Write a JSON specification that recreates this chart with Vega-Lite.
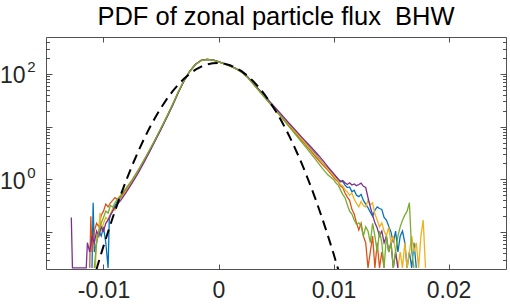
{
"$schema": "https://vega.github.io/schema/vega-lite/v6.json",
"width": 460, "height": 232,
"autosize": {"type": "none"},
"padding": {"left": 46, "top": 37, "right": 4, "bottom": 35},
"background": "white",
"config": {"view": {"stroke": null}, "font": "Liberation Sans"},
"title": {"text": "PDF of zonal particle flux \u00a0BHW", "fontSize": 25.5, "fontWeight": "normal", "font": "Liberation Sans", "color": "#000000", "anchor": "middle", "offset": 7, "baseline": "alphabetic", "dy": 21},
"datasets": {
"pdf": [
{"s":"s1","x":-0.011,"y":0.021},{"s":"s1","x":-0.0109,"y":0.36},{"s":"s1","x":-0.0108,"y":0.042},{"s":"s1","x":-0.0106,"y":0.063},{"s":"s1","x":-0.0104,"y":0.105},{"s":"s1","x":-0.0102,"y":0.084},{"s":"s1","x":-0.01,"y":0.126},{"s":"s1","x":-0.0098,"y":0.063},{"s":"s1","x":-0.0096,"y":0.021},{"s":"s1","x":-0.0095,"y":0.17},{"s":"s1","x":-0.0094,"y":0.21},{"s":"s1","x":-0.0092,"y":0.26},{"s":"s1","x":-0.009,"y":0.32},{"s":"s1","x":-0.0088,"y":0.38},
{"s":"s1","x":-0.0085,"y":0.46},{"s":"s1","x":-0.008,"y":0.63},{"s":"s1","x":-0.0075,"y":0.95},{"s":"s1","x":-0.007,"y":1.38},{"s":"s1","x":-0.0065,"y":2.25},{"s":"s1","x":-0.006,"y":3.4},{"s":"s1","x":-0.0055,"y":5.7},{"s":"s1","x":-0.005,"y":9.0},{"s":"s1","x":-0.0045,"y":15.3},{"s":"s1","x":-0.004,"y":25.3},{"s":"s1","x":-0.0035,"y":45.2},{"s":"s1","x":-0.003,"y":73.5},{"s":"s1","x":-0.0025,"y":113},{"s":"s1","x":-0.002,"y":152},{"s":"s1","x":-0.0015,"y":181},{"s":"s1","x":-0.001,"y":189},{"s":"s1","x":-0.0005,"y":184},{"s":"s1","x":0,"y":169},{"s":"s1","x":0.0005,"y":155},{"s":"s1","x":0.001,"y":141},{"s":"s1","x":0.0015,"y":126},{"s":"s1","x":0.002,"y":109},{"s":"s1","x":0.0025,"y":88.5},{"s":"s1","x":0.003,"y":66.5},{"s":"s1","x":0.0035,"y":50.0},{"s":"s1","x":0.004,"y":37.6},{"s":"s1","x":0.0045,"y":28.3},{"s":"s1","x":0.005,"y":21.3},{"s":"s1","x":0.0055,"y":16.0},{"s":"s1","x":0.006,"y":12.0},{"s":"s1","x":0.0065,"y":9.0},{"s":"s1","x":0.007,"y":6.8},{"s":"s1","x":0.0075,"y":5.1},{"s":"s1","x":0.008,"y":3.85},{"s":"s1","x":0.0085,"y":2.9},{"s":"s1","x":0.009,"y":2.15},{"s":"s1","x":0.0095,"y":1.62},
{"s":"s1","x":0.01,"y":1.25},{"s":"s1","x":0.0102,"y":1.12},{"s":"s1","x":0.0104,"y":1.0},{"s":"s1","x":0.0106,"y":0.9},{"s":"s1","x":0.0108,"y":0.92},{"s":"s1","x":0.011,"y":0.78},{"s":"s1","x":0.0112,"y":0.7},{"s":"s1","x":0.0114,"y":0.72},{"s":"s1","x":0.0116,"y":0.58},{"s":"s1","x":0.0118,"y":0.62},{"s":"s1","x":0.012,"y":0.5},{"s":"s1","x":0.0122,"y":0.47},{"s":"s1","x":0.0124,"y":0.52},{"s":"s1","x":0.0126,"y":0.4},{"s":"s1","x":0.0128,"y":0.34},{"s":"s1","x":0.013,"y":0.29},{"s":"s1","x":0.0132,"y":0.24},{"s":"s1","x":0.0134,"y":0.2},{"s":"s1","x":0.0136,"y":0.26},{"s":"s1","x":0.0138,"y":0.3},{"s":"s1","x":0.014,"y":0.28},{"s":"s1","x":0.0142,"y":0.27},{"s":"s1","x":0.0144,"y":0.19},{"s":"s1","x":0.0146,"y":0.17},{"s":"s1","x":0.0148,"y":0.13},{"s":"s1","x":0.015,"y":0.1},{"s":"s1","x":0.0152,"y":0.063},{"s":"s1","x":0.0154,"y":0.105},{"s":"s1","x":0.0156,"y":0.042},{"s":"s1","x":0.0158,"y":0.084},{"s":"s1","x":0.016,"y":0.105},{"s":"s1","x":0.0162,"y":0.063},{"s":"s1","x":0.0164,"y":0.021},{"s":"s1","x":0.0166,"y":0.042},{"s":"s1","x":0.0168,"y":0.021},{"s":"s1","x":0.017,"y":0.063},{"s":"s1","x":0.0172,"y":0.021},

{"s":"s2","x":-0.0112,"y":0.021},{"s":"s2","x":-0.0111,"y":0.2},{"s":"s2","x":-0.011,"y":0.042},{"s":"s2","x":-0.0108,"y":0.105},{"s":"s2","x":-0.0106,"y":0.147},{"s":"s2","x":-0.0104,"y":0.126},{"s":"s2","x":-0.0102,"y":0.21},{"s":"s2","x":-0.01,"y":0.25},{"s":"s2","x":-0.0098,"y":0.34},{"s":"s2","x":-0.0096,"y":0.3},{"s":"s2","x":-0.0094,"y":0.36},{"s":"s2","x":-0.0092,"y":0.4},{"s":"s2","x":-0.009,"y":0.45},{"s":"s2","x":-0.0088,"y":0.42},
{"s":"s2","x":-0.0085,"y":0.48},{"s":"s2","x":-0.008,"y":0.68},{"s":"s2","x":-0.0075,"y":0.97},{"s":"s2","x":-0.007,"y":1.45},{"s":"s2","x":-0.0065,"y":2.15},{"s":"s2","x":-0.006,"y":3.55},{"s":"s2","x":-0.0055,"y":5.55},{"s":"s2","x":-0.005,"y":9.3},{"s":"s2","x":-0.0045,"y":15.0},{"s":"s2","x":-0.004,"y":26.0},{"s":"s2","x":-0.0035,"y":44.3},{"s":"s2","x":-0.003,"y":74.5},{"s":"s2","x":-0.0025,"y":111},{"s":"s2","x":-0.002,"y":150},{"s":"s2","x":-0.0015,"y":180},{"s":"s2","x":-0.001,"y":188},{"s":"s2","x":-0.0005,"y":184},{"s":"s2","x":0,"y":170},{"s":"s2","x":0.0005,"y":155},{"s":"s2","x":0.001,"y":141},{"s":"s2","x":0.0015,"y":125},{"s":"s2","x":0.002,"y":109},{"s":"s2","x":0.0025,"y":87.5},{"s":"s2","x":0.003,"y":65.6},{"s":"s2","x":0.0035,"y":49.0},{"s":"s2","x":0.004,"y":36.5},{"s":"s2","x":0.0045,"y":27.2},{"s":"s2","x":0.005,"y":20.2},{"s":"s2","x":0.0055,"y":15.1},{"s":"s2","x":0.006,"y":11.3},{"s":"s2","x":0.0065,"y":8.4},{"s":"s2","x":0.007,"y":6.3},{"s":"s2","x":0.0075,"y":4.7},{"s":"s2","x":0.008,"y":3.5},{"s":"s2","x":0.0085,"y":2.6},{"s":"s2","x":0.009,"y":1.95},{"s":"s2","x":0.0095,"y":1.5},
{"s":"s2","x":0.01,"y":1.1},{"s":"s2","x":0.0102,"y":0.98},{"s":"s2","x":0.0104,"y":0.9},{"s":"s2","x":0.0106,"y":0.75},{"s":"s2","x":0.0108,"y":0.7},{"s":"s2","x":0.011,"y":0.55},{"s":"s2","x":0.0112,"y":0.46},{"s":"s2","x":0.0114,"y":0.4},{"s":"s2","x":0.0116,"y":0.27},{"s":"s2","x":0.0118,"y":0.22},{"s":"s2","x":0.012,"y":0.15},{"s":"s2","x":0.0122,"y":0.11},{"s":"s2","x":0.0124,"y":0.147},{"s":"s2","x":0.0126,"y":0.084},{"s":"s2","x":0.0128,"y":0.063},{"s":"s2","x":0.013,"y":0.021},{"s":"s2","x":0.0132,"y":0.042},{"s":"s2","x":0.0134,"y":0.084},{"s":"s2","x":0.0136,"y":0.021},{"s":"s2","x":0.0138,"y":0.063},{"s":"s2","x":0.014,"y":0.021},{"s":"s2","x":0.0142,"y":0.042},{"s":"s2","x":0.0144,"y":0.021},

{"s":"s3","x":-0.0107,"y":0.021},{"s":"s3","x":-0.0106,"y":0.084},{"s":"s3","x":-0.0104,"y":0.105},{"s":"s3","x":-0.0103,"y":0.23},{"s":"s3","x":-0.0102,"y":0.105},{"s":"s3","x":-0.01,"y":0.147},{"s":"s3","x":-0.0098,"y":0.19},{"s":"s3","x":-0.0096,"y":0.17},{"s":"s3","x":-0.0094,"y":0.22},{"s":"s3","x":-0.0092,"y":0.28},{"s":"s3","x":-0.009,"y":0.26},{"s":"s3","x":-0.0088,"y":0.35},
{"s":"s3","x":-0.0085,"y":0.43},{"s":"s3","x":-0.008,"y":0.62},{"s":"s3","x":-0.0075,"y":0.91},{"s":"s3","x":-0.007,"y":1.42},{"s":"s3","x":-0.0065,"y":2.2},{"s":"s3","x":-0.006,"y":3.45},{"s":"s3","x":-0.0055,"y":5.65},{"s":"s3","x":-0.005,"y":9.1},{"s":"s3","x":-0.0045,"y":15.2},{"s":"s3","x":-0.004,"y":25.8},{"s":"s3","x":-0.0035,"y":45.0},{"s":"s3","x":-0.003,"y":74.0},{"s":"s3","x":-0.0025,"y":112},{"s":"s3","x":-0.002,"y":151},{"s":"s3","x":-0.0015,"y":180},{"s":"s3","x":-0.001,"y":189},{"s":"s3","x":-0.0005,"y":185},{"s":"s3","x":0,"y":170},{"s":"s3","x":0.0005,"y":155},{"s":"s3","x":0.001,"y":142},{"s":"s3","x":0.0015,"y":126},{"s":"s3","x":0.002,"y":110},{"s":"s3","x":0.0025,"y":88.0},{"s":"s3","x":0.003,"y":66.0},{"s":"s3","x":0.0035,"y":49.6},{"s":"s3","x":0.004,"y":37.3},{"s":"s3","x":0.0045,"y":28.0},{"s":"s3","x":0.005,"y":21.0},{"s":"s3","x":0.0055,"y":15.8},{"s":"s3","x":0.006,"y":11.8},{"s":"s3","x":0.0065,"y":8.9},{"s":"s3","x":0.007,"y":6.7},{"s":"s3","x":0.0075,"y":5.0},{"s":"s3","x":0.008,"y":3.75},{"s":"s3","x":0.0085,"y":2.82},{"s":"s3","x":0.009,"y":2.12},{"s":"s3","x":0.0095,"y":1.58},
{"s":"s3","x":0.01,"y":1.2},{"s":"s3","x":0.0102,"y":1.04},{"s":"s3","x":0.0104,"y":0.94},{"s":"s3","x":0.0106,"y":0.8},{"s":"s3","x":0.0108,"y":0.76},{"s":"s3","x":0.011,"y":0.64},{"s":"s3","x":0.0112,"y":0.58},{"s":"s3","x":0.0114,"y":0.5},{"s":"s3","x":0.0116,"y":0.55},{"s":"s3","x":0.0118,"y":0.42},{"s":"s3","x":0.012,"y":0.35},{"s":"s3","x":0.0122,"y":0.3},{"s":"s3","x":0.0124,"y":0.38},{"s":"s3","x":0.0126,"y":0.32},{"s":"s3","x":0.0128,"y":0.3},{"s":"s3","x":0.013,"y":0.4},{"s":"s3","x":0.0132,"y":0.33},{"s":"s3","x":0.0134,"y":0.36},{"s":"s3","x":0.0136,"y":0.22},{"s":"s3","x":0.0138,"y":0.17},{"s":"s3","x":0.014,"y":0.126},{"s":"s3","x":0.0142,"y":0.15},{"s":"s3","x":0.0144,"y":0.105},{"s":"s3","x":0.0146,"y":0.084},{"s":"s3","x":0.0148,"y":0.126},{"s":"s3","x":0.015,"y":0.063},{"s":"s3","x":0.0152,"y":0.084},{"s":"s3","x":0.0154,"y":0.042},{"s":"s3","x":0.0156,"y":0.021},{"s":"s3","x":0.0158,"y":0.042},{"s":"s3","x":0.016,"y":0.021},{"s":"s3","x":0.0162,"y":0.063},{"s":"s3","x":0.0164,"y":0.021},{"s":"s3","x":0.0166,"y":0.042},{"s":"s3","x":0.0168,"y":0.084},{"s":"s3","x":0.017,"y":0.042},{"s":"s3","x":0.0172,"y":0.063},{"s":"s3","x":0.0174,"y":0.021},{"s":"s3","x":0.0176,"y":0.084},{"s":"s3","x":0.0178,"y":0.17},{"s":"s3","x":0.018,"y":0.021},

{"s":"s4","x":-0.0128,"y":0.19},{"s":"s4","x":-0.0127,"y":0.021},{"s":"s4","x":-0.0124,"y":0.021},{"s":"s4","x":-0.012,"y":0.021},{"s":"s4","x":-0.0115,"y":0.021},{"s":"s4","x":-0.0114,"y":0.063},{"s":"s4","x":-0.0112,"y":0.042},{"s":"s4","x":-0.011,"y":0.084},{"s":"s4","x":-0.0108,"y":0.063},{"s":"s4","x":-0.0106,"y":0.105},{"s":"s4","x":-0.0104,"y":0.084},{"s":"s4","x":-0.0102,"y":0.126},{"s":"s4","x":-0.01,"y":0.105},{"s":"s4","x":-0.0098,"y":0.147},{"s":"s4","x":-0.0096,"y":0.17},{"s":"s4","x":-0.0094,"y":0.21},{"s":"s4","x":-0.0092,"y":0.25},{"s":"s4","x":-0.009,"y":0.3},{"s":"s4","x":-0.0088,"y":0.34},
{"s":"s4","x":-0.0085,"y":0.4},{"s":"s4","x":-0.008,"y":0.58},{"s":"s4","x":-0.0075,"y":0.86},{"s":"s4","x":-0.007,"y":1.3},{"s":"s4","x":-0.0065,"y":2.05},{"s":"s4","x":-0.006,"y":3.3},{"s":"s4","x":-0.0055,"y":5.4},{"s":"s4","x":-0.005,"y":8.8},{"s":"s4","x":-0.0045,"y":14.8},{"s":"s4","x":-0.004,"y":25.0},{"s":"s4","x":-0.0035,"y":44.0},{"s":"s4","x":-0.003,"y":73.5},{"s":"s4","x":-0.0025,"y":112},{"s":"s4","x":-0.002,"y":152},{"s":"s4","x":-0.0015,"y":181},{"s":"s4","x":-0.001,"y":189},{"s":"s4","x":-0.0005,"y":185},{"s":"s4","x":0,"y":170},{"s":"s4","x":0.0005,"y":156},{"s":"s4","x":0.001,"y":142},{"s":"s4","x":0.0015,"y":127},{"s":"s4","x":0.002,"y":111},{"s":"s4","x":0.0025,"y":89.5},{"s":"s4","x":0.003,"y":67.5},{"s":"s4","x":0.0035,"y":51.0},{"s":"s4","x":0.004,"y":38.5},{"s":"s4","x":0.0045,"y":29.0},{"s":"s4","x":0.005,"y":22.0},{"s":"s4","x":0.0055,"y":16.6},{"s":"s4","x":0.006,"y":12.5},{"s":"s4","x":0.0065,"y":9.5},{"s":"s4","x":0.007,"y":7.2},{"s":"s4","x":0.0075,"y":5.5},{"s":"s4","x":0.008,"y":4.2},{"s":"s4","x":0.0085,"y":3.2},{"s":"s4","x":0.009,"y":2.4},{"s":"s4","x":0.0095,"y":1.75},
{"s":"s4","x":0.01,"y":1.3},{"s":"s4","x":0.0102,"y":1.15},{"s":"s4","x":0.0104,"y":1.02},{"s":"s4","x":0.0106,"y":0.92},{"s":"s4","x":0.0108,"y":0.95},{"s":"s4","x":0.011,"y":0.86},{"s":"s4","x":0.0112,"y":0.8},{"s":"s4","x":0.0114,"y":0.86},{"s":"s4","x":0.0116,"y":0.78},{"s":"s4","x":0.0118,"y":0.82},{"s":"s4","x":0.012,"y":0.76},{"s":"s4","x":0.0122,"y":0.8},{"s":"s4","x":0.0124,"y":0.85},{"s":"s4","x":0.0126,"y":0.74},{"s":"s4","x":0.0128,"y":0.7},{"s":"s4","x":0.013,"y":0.45},{"s":"s4","x":0.0132,"y":0.3},{"s":"s4","x":0.0134,"y":0.21},{"s":"s4","x":0.0136,"y":0.15},{"s":"s4","x":0.0138,"y":0.12},{"s":"s4","x":0.014,"y":0.084},{"s":"s4","x":0.0142,"y":0.105},{"s":"s4","x":0.0144,"y":0.063},{"s":"s4","x":0.0146,"y":0.084},{"s":"s4","x":0.0148,"y":0.042},{"s":"s4","x":0.015,"y":0.063},{"s":"s4","x":0.0152,"y":0.021},{"s":"s4","x":0.0154,"y":0.042},{"s":"s4","x":0.0156,"y":0.021},

{"s":"s5","x":-0.0108,"y":0.021},{"s":"s5","x":-0.0106,"y":0.063},{"s":"s5","x":-0.0104,"y":0.105},{"s":"s5","x":-0.0102,"y":0.147},{"s":"s5","x":-0.01,"y":0.19},{"s":"s5","x":-0.0098,"y":0.25},{"s":"s5","x":-0.0096,"y":0.23},{"s":"s5","x":-0.0094,"y":0.32},{"s":"s5","x":-0.0092,"y":0.3},{"s":"s5","x":-0.009,"y":0.36},{"s":"s5","x":-0.0088,"y":0.42},
{"s":"s5","x":-0.0085,"y":0.5},{"s":"s5","x":-0.008,"y":0.7},{"s":"s5","x":-0.0075,"y":0.99},{"s":"s5","x":-0.007,"y":1.48},{"s":"s5","x":-0.0065,"y":2.3},{"s":"s5","x":-0.006,"y":3.6},{"s":"s5","x":-0.0055,"y":5.75},{"s":"s5","x":-0.005,"y":9.4},{"s":"s5","x":-0.0045,"y":15.5},{"s":"s5","x":-0.004,"y":26.2},{"s":"s5","x":-0.0035,"y":45.5},{"s":"s5","x":-0.003,"y":74.8},{"s":"s5","x":-0.0025,"y":112},{"s":"s5","x":-0.002,"y":151},{"s":"s5","x":-0.0015,"y":179},{"s":"s5","x":-0.001,"y":188},{"s":"s5","x":-0.0005,"y":183},{"s":"s5","x":0,"y":169},{"s":"s5","x":0.0005,"y":154},{"s":"s5","x":0.001,"y":140},{"s":"s5","x":0.0015,"y":125},{"s":"s5","x":0.002,"y":108},{"s":"s5","x":0.0025,"y":86.5},{"s":"s5","x":0.003,"y":64.8},{"s":"s5","x":0.0035,"y":48.3},{"s":"s5","x":0.004,"y":36.0},{"s":"s5","x":0.0045,"y":26.8},{"s":"s5","x":0.005,"y":19.8},{"s":"s5","x":0.0055,"y":14.6},{"s":"s5","x":0.006,"y":10.8},{"s":"s5","x":0.0065,"y":8.0},{"s":"s5","x":0.007,"y":5.9},{"s":"s5","x":0.0075,"y":4.3},{"s":"s5","x":0.008,"y":3.15},{"s":"s5","x":0.0085,"y":2.3},{"s":"s5","x":0.009,"y":1.65},{"s":"s5","x":0.0095,"y":1.22},
{"s":"s5","x":0.01,"y":1.0},{"s":"s5","x":0.0102,"y":0.86},{"s":"s5","x":0.0104,"y":0.78},{"s":"s5","x":0.0106,"y":0.64},{"s":"s5","x":0.0108,"y":0.52},{"s":"s5","x":0.011,"y":0.45},{"s":"s5","x":0.0112,"y":0.33},{"s":"s5","x":0.0114,"y":0.25},{"s":"s5","x":0.0116,"y":0.22},{"s":"s5","x":0.0118,"y":0.17},{"s":"s5","x":0.012,"y":0.14},{"s":"s5","x":0.0122,"y":0.15},{"s":"s5","x":0.0124,"y":0.13},{"s":"s5","x":0.0126,"y":0.084},{"s":"s5","x":0.0128,"y":0.126},{"s":"s5","x":0.013,"y":0.105},{"s":"s5","x":0.0132,"y":0.063},{"s":"s5","x":0.0134,"y":0.147},{"s":"s5","x":0.0136,"y":0.084},{"s":"s5","x":0.0138,"y":0.042},{"s":"s5","x":0.014,"y":0.105},{"s":"s5","x":0.0142,"y":0.063},{"s":"s5","x":0.0144,"y":0.021},{"s":"s5","x":0.0146,"y":0.084},{"s":"s5","x":0.0148,"y":0.042},{"s":"s5","x":0.015,"y":0.063},{"s":"s5","x":0.0152,"y":0.021},{"s":"s5","x":0.0154,"y":0.042},{"s":"s5","x":0.0156,"y":0.084},{"s":"s5","x":0.0158,"y":0.126},{"s":"s5","x":0.016,"y":0.168},{"s":"s5","x":0.0162,"y":0.21},{"s":"s5","x":0.0164,"y":0.25},{"s":"s5","x":0.0166,"y":0.36},{"s":"s5","x":0.0168,"y":0.042},{"s":"s5","x":0.017,"y":0.021}
],
"gauss": [
{"x":-0.011,"y":0.00996},{"x":-0.0105,"y":0.02375},{"x":-0.01,"y":0.0543},{"x":-0.0095,"y":0.1194},{"x":-0.009,"y":0.252},{"x":-0.0085,"y":0.51},{"x":-0.008,"y":0.992},{"x":-0.0075,"y":1.851},{"x":-0.007,"y":3.317},{"x":-0.0065,"y":5.705},{"x":-0.006,"y":9.418},{"x":-0.0055,"y":14.94},{"x":-0.005,"y":22.73},{"x":-0.0045,"y":33.22},{"x":-0.004,"y":46.59},{"x":-0.0035,"y":62.75},{"x":-0.003,"y":81.13},{"x":-0.0025,"y":100.7},{"x":-0.002,"y":120.0},{"x":-0.0015,"y":137.3},{"x":-0.001,"y":150.8},{"x":-0.0005,"y":159.0},{"x":0,"y":161.0},{"x":0.0005,"y":156.4},{"x":0.001,"y":145.9},{"x":0.0015,"y":130.7},{"x":0.002,"y":112.4},{"x":0.0025,"y":92.83},{"x":0.003,"y":73.57},{"x":0.0035,"y":55.98},{"x":0.004,"y":40.9},{"x":0.0045,"y":28.68},{"x":0.005,"y":19.3},{"x":0.0055,"y":12.48},{"x":0.006,"y":7.747},{"x":0.0065,"y":4.614},{"x":0.007,"y":2.639},{"x":0.0075,"y":1.45},{"x":0.008,"y":0.7641},{"x":0.0085,"y":0.3866},{"x":0.009,"y":0.1878},{"x":0.0095,"y":0.0876},{"x":0.01,"y":0.0393},{"x":0.0105,"y":0.01685},{"x":0.011,"y":0.00696}
]
},
"layer": [
{
"data": {"name": "pdf"},
"mark": {"type": "line", "strokeWidth": 1.3, "clip": true},
"encoding": {
"x": {"field": "x", "type": "quantitative",
 "scale": {"domain": [-0.015, 0.025], "nice": false, "zero": false},
 "axis": {"orient": "bottom", "values": [-0.01, 0, 0.01, 0.02], "grid": false, "title": null,
  "labelExpr": "datum.value < -0.005 ? '-0.01' : datum.value < 0.005 ? '0' : datum.value < 0.015 ? '0.01' : '0.02'",
  "labelFontSize": 23, "labelFont": "Liberation Sans", "labelColor": "#262626", "labelPadding": 15,
  "domainColor": "#262626", "domainWidth": 0.8, "tickColor": "#262626", "tickWidth": 0.8, "tickSize": -5}},
"y": {"field": "y", "type": "quantitative",
 "scale": {"type": "log", "domain": [0.02, 500], "nice": false},
 "axis": {"orient": "left", "grid": false, "title": null,
  "values": [0.03,0.04,0.05,0.06,0.07,0.08,0.09,0.1,0.2,0.3,0.4,0.5,0.6,0.7,0.8,0.9,1,2,3,4,5,6,7,8,9,10,20,30,40,50,60,70,80,90,100,200,300,400],
  "labelExpr": "datum.value == 1 || datum.value == 100 ? '10' : ''",
  "labelFontSize": 23, "labelFont": "Liberation Sans", "labelColor": "#262626", "labelPadding": 27, "labelOffset": 2,
  "domainColor": "#262626", "domainWidth": 0.8, "tickColor": "#262626", "tickWidth": 0.8,
  "tickSize": {"condition": {"test": "datum.value == 0.1 || datum.value == 1 || datum.value == 10 || datum.value == 100", "value": -6}, "value": -3.5}}},
"color": {"field": "s", "type": "nominal",
 "scale": {"domain": ["s1","s2","s3","s4","s5"], "range": ["#0072BD","#D95319","#EDB120","#7E2F8E","#77AC30"]},
 "legend": null}
}
},
{
"data": {"name": "gauss"},
"mark": {"type": "line", "color": "#000000", "strokeWidth": 2, "strokeDash": [10, 6], "clip": true},
"encoding": {
"x": {"field": "x", "type": "quantitative",
 "scale": {"domain": [-0.015, 0.025], "nice": false, "zero": false},
 "axis": {"orient": "top", "values": [-0.01, 0, 0.01, 0.02], "grid": false, "title": null, "labels": false,
  "domainColor": "#262626", "domainWidth": 0.8, "tickColor": "#262626", "tickWidth": 0.8, "tickSize": -5}},
"y": {"field": "y", "type": "quantitative",
 "scale": {"type": "log", "domain": [0.02, 500], "nice": false},
 "axis": {"orient": "right", "grid": false, "title": null, "labels": false,
  "values": [0.03,0.04,0.05,0.06,0.07,0.08,0.09,0.1,0.2,0.3,0.4,0.5,0.6,0.7,0.8,0.9,1,2,3,4,5,6,7,8,9,10,20,30,40,50,60,70,80,90,100,200,300,400],
  "domainColor": "#262626", "domainWidth": 0.8, "tickColor": "#262626", "tickWidth": 0.8,
  "tickSize": {"condition": {"test": "datum.value == 0.1 || datum.value == 1 || datum.value == 10 || datum.value == 100", "value": -6}, "value": -3.5}}}
}
},
{
"data": {"name": "gauss"},
"mark": {"type": "line", "opacity": 0, "clip": true},
"encoding": {
"x": {"field": "x", "type": "quantitative", "axis": null},
"y": {"field": "y", "type": "quantitative",
 "axis": {"orient": "left", "grid": false, "title": null, "ticks": false, "domain": false,
  "values": [1, 100],
  "labelExpr": "datum.value == 1 ? '0' : '2'",
  "labelFontSize": 15, "labelFont": "Liberation Sans", "labelColor": "#262626", "labelPadding": 11, "labelOffset": -7}}
}
}
],
"resolve": {"axis": {"x": "independent", "y": "independent"}}
}
